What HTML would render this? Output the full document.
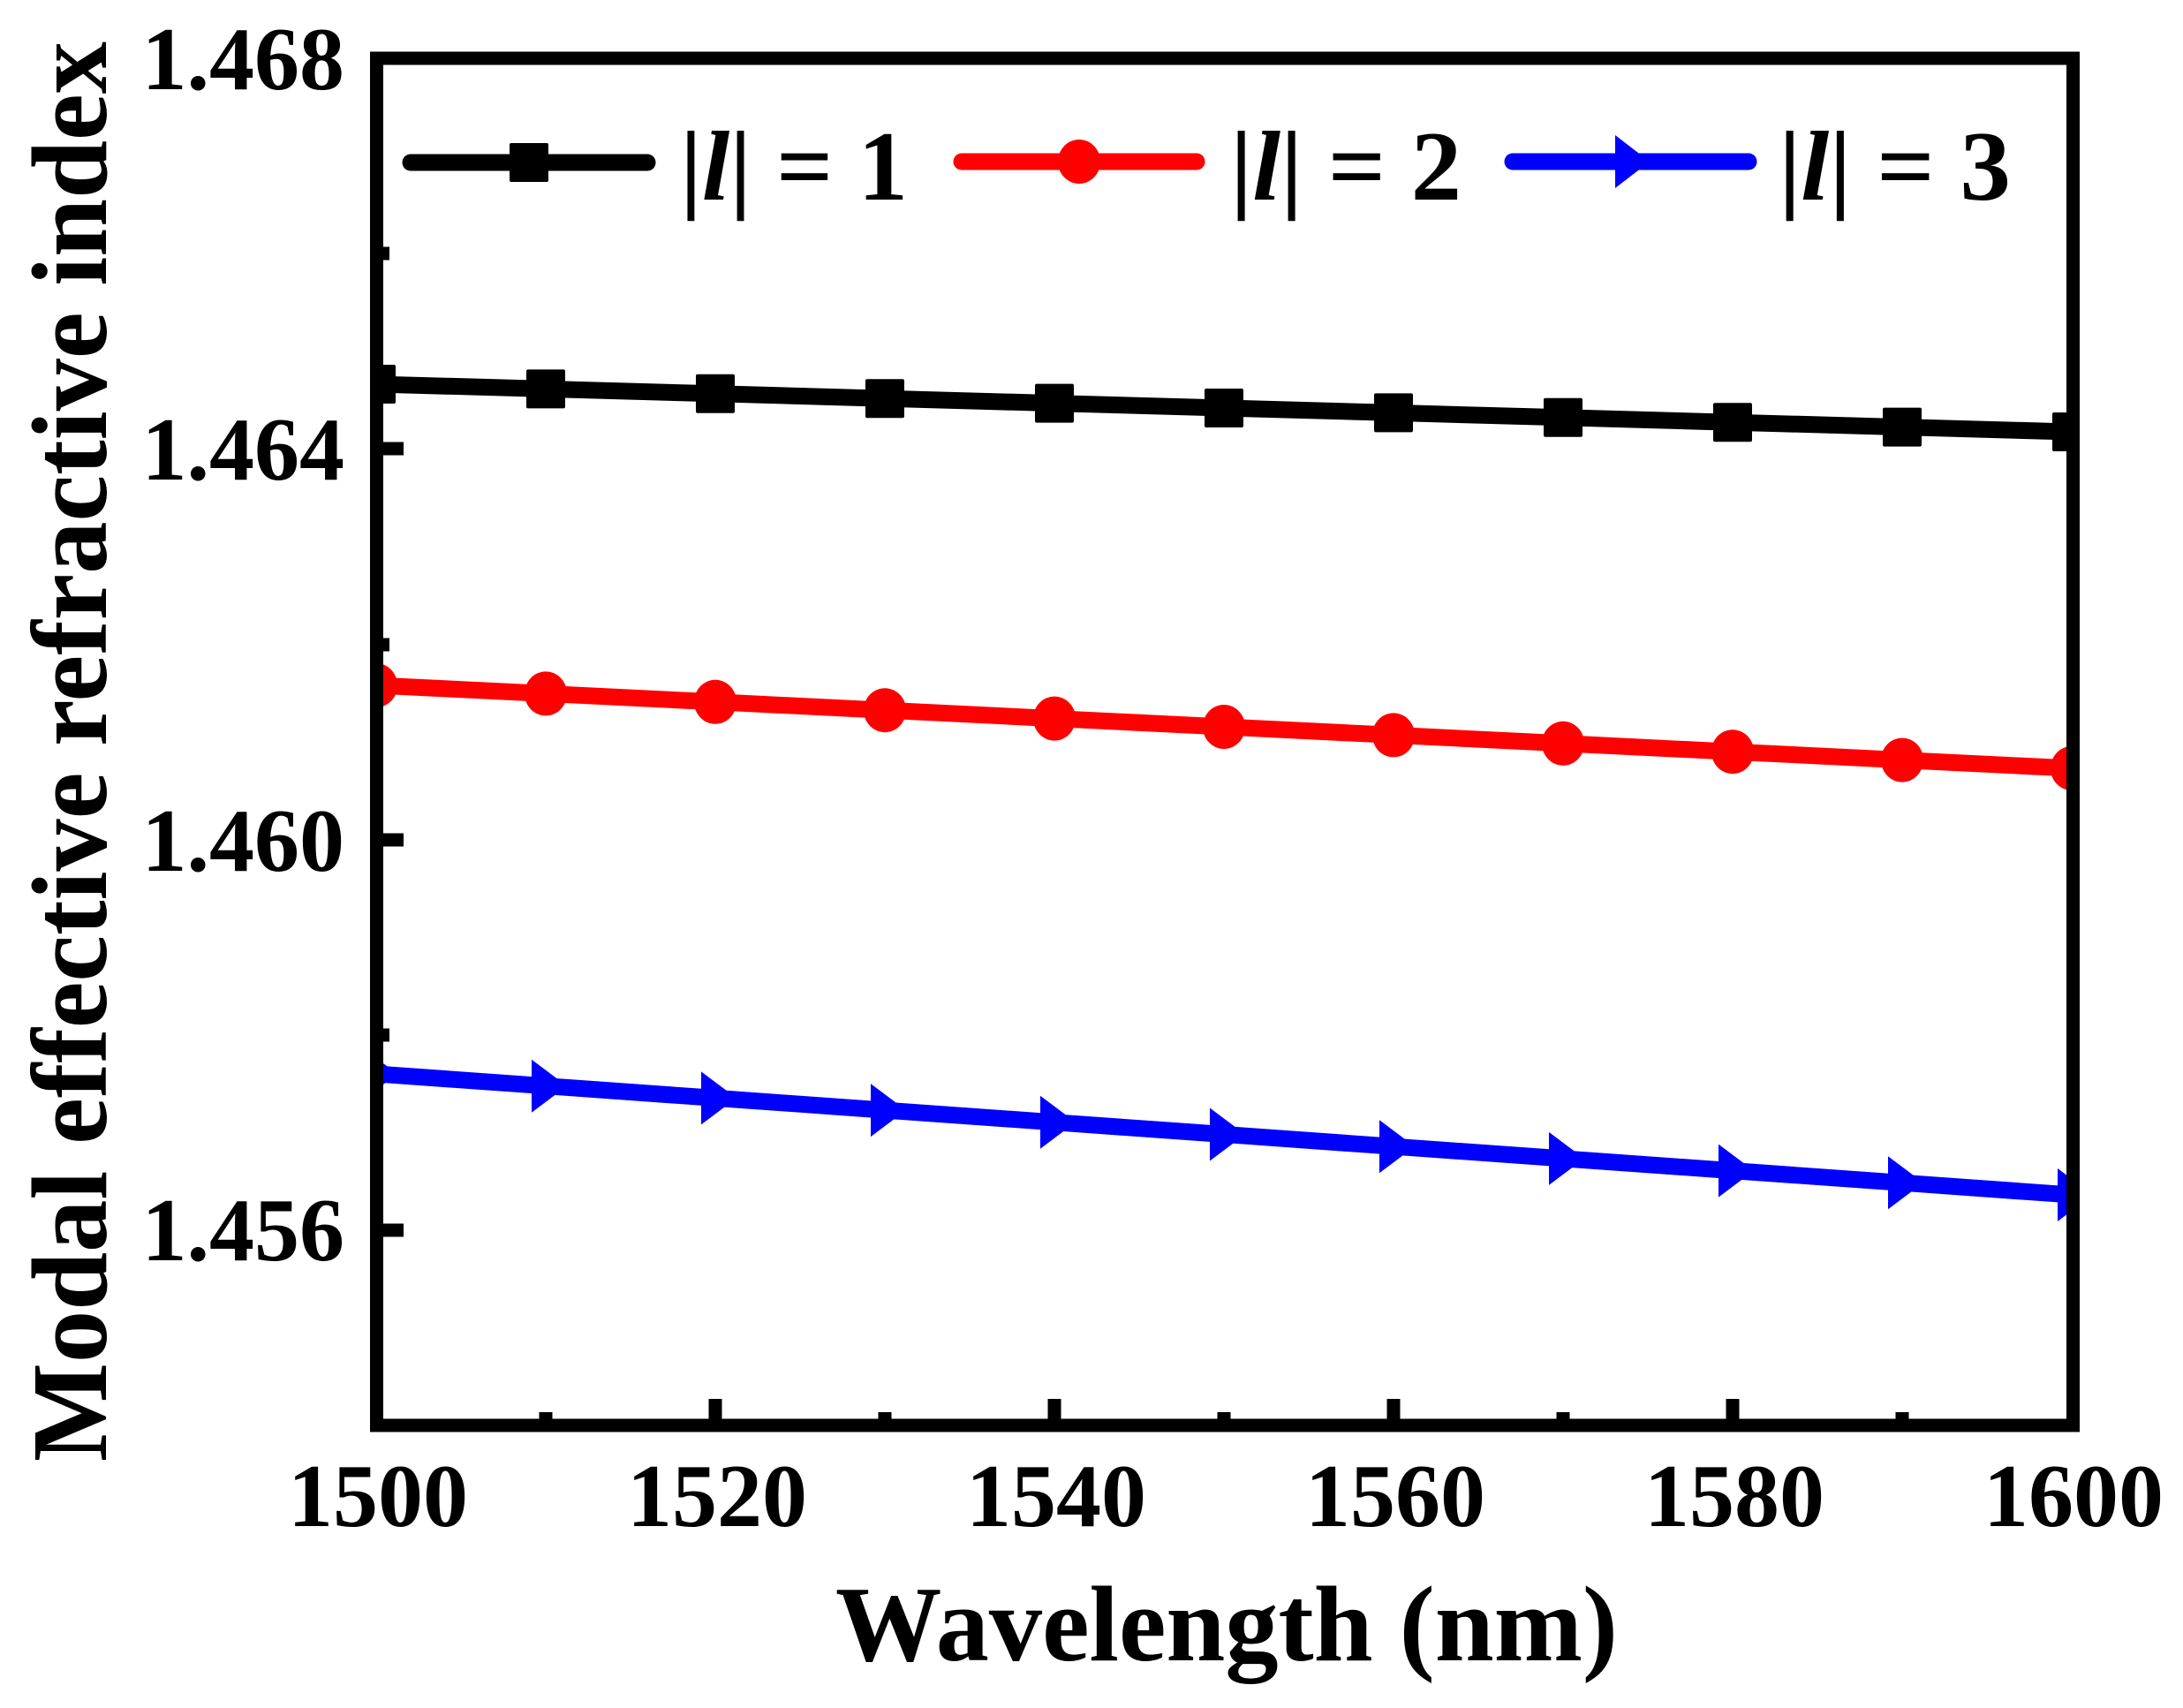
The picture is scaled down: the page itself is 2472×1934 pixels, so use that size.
<!DOCTYPE html>
<html><head><meta charset="utf-8"><style>html,body{margin:0;padding:0;background:#fff}</style></head>
<body>
<svg width="2472" height="1929" viewBox="0 0 2472 1929" xmlns="http://www.w3.org/2000/svg" font-family="'Liberation Serif', serif">
<defs>
<clipPath id="pa"><rect x="433" y="73" width="1908" height="1534"/></clipPath>
<g id="sq"><rect x="-22" y="-22" width="44" height="44" fill="#000" rx="2"/></g>
<g id="ci"><ellipse cx="0" cy="0" rx="24" ry="25" fill="#f00"/></g>
<g id="tr"><polygon points="-16,-30 24,0 -16,30" fill="#00f"/></g>
</defs>
<g clip-path="url(#pa)">
<polyline fill="none" stroke="#000" stroke-width="19" points="426,435 618,440.4 810,445.8 1002,451.2 1194,456.6 1386,462 1578,467.4 1770,472.8 1962,478.2 2154,483.6 2346,489"/>
<polyline fill="none" stroke="#f00" stroke-width="19" points="426,776 618,785.4 810,794.8 1002,804.2 1194,813.6 1386,823 1578,832.4 1770,841.8 1962,851.2 2154,860.6 2346,870"/>
<polyline fill="none" stroke="#00f" stroke-width="19" points="426,1216 618,1229.7 810,1243.4 1002,1257.1 1194,1270.8 1386,1284.5 1578,1298.2 1770,1311.9 1962,1325.6 2154,1339.3 2346,1353"/>
<use href="#sq" x="426" y="435"/><use href="#sq" x="618" y="440.4"/><use href="#sq" x="810" y="445.8"/><use href="#sq" x="1002" y="451.2"/><use href="#sq" x="1194" y="456.6"/><use href="#sq" x="1386" y="462"/><use href="#sq" x="1578" y="467.4"/><use href="#sq" x="1770" y="472.8"/><use href="#sq" x="1962" y="478.2"/><use href="#sq" x="2154" y="483.6"/><use href="#sq" x="2346" y="489"/>
<use href="#ci" x="426" y="776"/><use href="#ci" x="618" y="785.4"/><use href="#ci" x="810" y="794.8"/><use href="#ci" x="1002" y="804.2"/><use href="#ci" x="1194" y="813.6"/><use href="#ci" x="1386" y="823"/><use href="#ci" x="1578" y="832.4"/><use href="#ci" x="1770" y="841.8"/><use href="#ci" x="1962" y="851.2"/><use href="#ci" x="2154" y="860.6"/><use href="#ci" x="2346" y="870"/>
<use href="#tr" x="426" y="1216"/><use href="#tr" x="618" y="1229.7"/><use href="#tr" x="810" y="1243.4"/><use href="#tr" x="1002" y="1257.1"/><use href="#tr" x="1194" y="1270.8"/><use href="#tr" x="1386" y="1284.5"/><use href="#tr" x="1578" y="1298.2"/><use href="#tr" x="1770" y="1311.9"/><use href="#tr" x="1962" y="1325.6"/><use href="#tr" x="2154" y="1339.3"/><use href="#tr" x="2346" y="1353"/>
</g>
<rect x="426.5" y="66" width="1921" height="1548" fill="none" stroke="#000" stroke-width="15"/>
<g stroke="#000" stroke-width="15">
<line x1="426" y1="508" x2="457" y2="508"/><line x1="426" y1="951" x2="457" y2="951"/><line x1="426" y1="1393" x2="457" y2="1393"/>
<line x1="426" y1="287" x2="441" y2="287"/><line x1="426" y1="730" x2="441" y2="730"/><line x1="426" y1="1172" x2="441" y2="1172"/>
</g>
<g stroke="#000" stroke-width="15">
<line x1="810" y1="1614" x2="810" y2="1584"/><line x1="1194" y1="1614" x2="1194" y2="1584"/><line x1="1578" y1="1614" x2="1578" y2="1584"/><line x1="1962" y1="1614" x2="1962" y2="1584"/>
<line x1="618" y1="1614" x2="618" y2="1599"/><line x1="1002" y1="1614" x2="1002" y2="1599"/><line x1="1386" y1="1614" x2="1386" y2="1599"/><line x1="1770" y1="1614" x2="1770" y2="1599"/><line x1="2154" y1="1614" x2="2154" y2="1599"/>
</g>
<g font-weight="bold" font-size="102" text-anchor="end">
<text x="390" y="101">1.468</text><text x="390" y="543">1.464</text><text x="390" y="986">1.460</text><text x="390" y="1427">1.456</text>
</g>
<g font-weight="bold" font-size="102" text-anchor="middle">
<text x="428" y="1728">1500</text><text x="812" y="1728">1520</text><text x="1196" y="1728">1540</text><text x="1580" y="1728">1560</text><text x="1964" y="1728">1580</text><text x="2348" y="1728">1600</text>
</g>
<text x="1389" y="1880" font-weight="bold" font-size="122" text-anchor="middle" textLength="886" lengthAdjust="spacingAndGlyphs">Wavelength (nm)</text>
<text transform="translate(120,1655) rotate(-90)" x="0" y="0" font-weight="bold" font-size="122" textLength="1608" lengthAdjust="spacingAndGlyphs">Modal effective refractive index</text>
<line x1="465" y1="184" x2="733" y2="184" stroke="#000" stroke-width="19" stroke-linecap="round"/>
<use href="#sq" x="599" y="184"/>
<line x1="1089" y1="183" x2="1355" y2="183" stroke="#f00" stroke-width="19" stroke-linecap="round"/>
<use href="#ci" x="1222" y="183"/>
<line x1="1713" y1="183" x2="1980" y2="183" stroke="#00f" stroke-width="19" stroke-linecap="round"/>
<polygon points="1829,153 1868,183 1829,213" fill="#00f"/>
<g font-size="112" font-weight="bold">
<text x="770" y="226" textLength="258" lengthAdjust="spacingAndGlyphs">|<tspan font-style="italic">l</tspan>| = 1</text>
<text x="1393" y="226" textLength="262" lengthAdjust="spacingAndGlyphs">|<tspan font-style="italic">l</tspan>| = 2</text>
<text x="2014" y="226" textLength="263" lengthAdjust="spacingAndGlyphs">|<tspan font-style="italic">l</tspan>| = 3</text>
</g>
</svg>
</body></html>
